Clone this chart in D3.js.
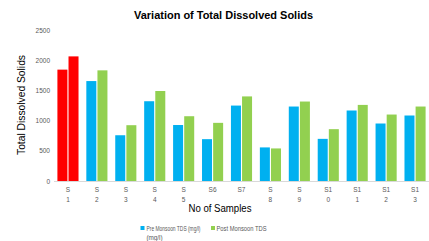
<!DOCTYPE html>
<html><head><meta charset="utf-8">
<script src="https://cdn.jsdelivr.net/npm/d3@7"></script>
<style>body{margin:0;background:#fff;}svg{display:block;font-family:"Liberation Sans",Arial,sans-serif;}</style>
</head><body>
<svg id="c" width="429" height="241"></svg>
<script>
const categories = [["S","1"],["S","2"],["S","3"],["S","4"],["S","5"],["S6"],["S7"],["S","8"],["S","9"],["S1","0"],["S1","1"],["S1","2"],["S1","3"]];
const preMonsoon = [1850, 1660, 760, 1325, 930, 695, 1253, 558, 1237, 700, 1171, 955, 1088];
const postMonsoon = [2070, 1838, 927, 1495, 1076, 966, 1405, 541, 1320, 861, 1264, 1104, 1237];
const highlightIndex = 0;
const yTicks = [0, 500, 1000, 1500, 2000, 2500];
const seriesNames = ["Pre Monsoon TDS (mg/l)", "Post Monsoon TDS"];

const svg = d3.select("#c");
const x = d3.scaleBand().domain(d3.range(categories.length)).range([53.5, 429.5]).paddingInner(0.27).paddingOuter(0.135);
const inner = d3.scaleBand().domain([0,1]).range([0, x.bandwidth()]).paddingInner(0.1);
const y = d3.scaleLinear().domain([0, 2500]).range([181, 30.5]);

// title
svg.append("text").attr("x", 223.5).attr("y", 19).attr("text-anchor","middle")
  .attr("font-size", 11.2).attr("font-weight","bold").attr("fill","#000")
  .attr("textLength", 179).attr("lengthAdjust","spacingAndGlyphs").text("Variation of Total Dissolved Solids");

// y axis
const ya = svg.append("g").attr("transform","translate(50,0)")
  .call(d3.axisLeft(y).tickValues(yTicks).tickFormat(d3.format("d")).tickSize(0).tickPadding(0));
ya.select(".domain").remove();
ya.selectAll("text").attr("font-size", 6.5).attr("fill","#595959").attr("font-family","Liberation Sans, Arial, sans-serif");

svg.append("text").attr("transform","translate(25,105) rotate(-90)").attr("text-anchor","middle")
  .attr("font-size", 10).attr("fill","#000").attr("textLength", 100).attr("lengthAdjust","spacingAndGlyphs")
  .text("Total Dissolved Solids");

// bars
const g = svg.append("g");
categories.forEach((c, i) => {
  const vals = [preMonsoon[i], postMonsoon[i]];
  vals.forEach((v, j) => {
    const col = i === highlightIndex ? "#FF0000" : (j === 0 ? "#00B0F0" : "#92D050");
    g.append("rect").attr("x", x(i) + inner(j)).attr("width", inner.bandwidth())
      .attr("y", y(v)).attr("height", y(0) - y(v)).attr("fill", col);
  });
});

// baseline
svg.append("line").attr("x1", 54).attr("x2", 429).attr("y1", 181.5).attr("y2", 181.5)
  .attr("stroke","#d9d9d9").attr("stroke-width",1);

// x tick labels
categories.forEach((c, i) => {
  const t = svg.append("text").attr("text-anchor","middle").attr("font-size", 6.5).attr("fill","#595959");
  c.forEach((line, k) => {
    t.append("tspan").attr("x", x(i) + x.bandwidth()/2).attr("y", 192 + k*9.5).text(line);
  });
});

svg.append("text").attr("x", 220).attr("y", 212).attr("text-anchor","middle")
  .attr("font-size", 10).attr("fill","#000").attr("textLength", 63).attr("lengthAdjust","spacingAndGlyphs")
  .text("No of Samples");

// legend
const lg = svg.append("g");
lg.append("rect").attr("x", 140.5).attr("y", 226).attr("width", 4).attr("height", 4).attr("fill","#00B0F0");
lg.append("text").attr("x", 146.5).attr("y", 230.5).attr("font-size", 6.3).attr("fill","#595959")
  .attr("textLength", 54).attr("lengthAdjust","spacingAndGlyphs").text(seriesNames[0]);
lg.append("text").attr("x", 146.5).attr("y", 239.5).attr("font-size", 6.3).attr("fill","#595959").text("(mg/l)");
lg.append("rect").attr("x", 211).attr("y", 226).attr("width", 4).attr("height", 4).attr("fill","#92D050");
lg.append("text").attr("x", 216.5).attr("y", 230.5).attr("font-size", 6.3).attr("fill","#595959")
  .attr("textLength", 50).attr("lengthAdjust","spacingAndGlyphs").text(seriesNames[1]);
</script>
</body></html>
